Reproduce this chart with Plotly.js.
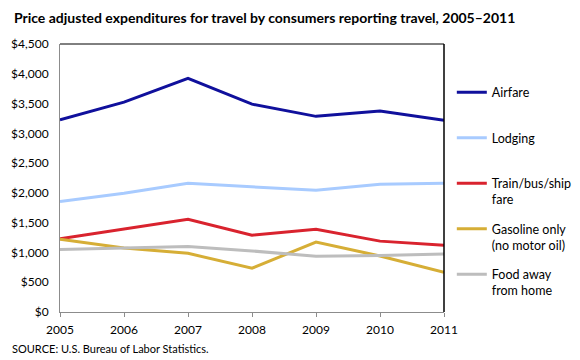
<!DOCTYPE html>
<html>
<head>
<meta charset="utf-8">
<script src="https://cdn.plot.ly/plotly-3.0.1.min.js"></script>
<style>html,body{margin:0;padding:0;background:#fff;}</style>
</head>
<body>
<div id="chart" style="width:580px;height:360px;"></div>
<script>
const years = [2005, 2006, 2007, 2008, 2009, 2010, 2011];
const seriesNames = ["Airfare<br> ", "Lodging<br> ", "Train/bus/ship<br>fare", "Gasoline only<br>(no motor oil)", "Food away<br>from home"];
const airfare = [3225, 3525, 3925, 3490, 3285, 3375, 3220];
const lodging = [1855, 1995, 2160, 2105, 2045, 2145, 2160];
const trainBusShip = [1230, 1390, 1555, 1290, 1390, 1190, 1120];
const gasoline = [1220, 1075, 985, 735, 1175, 940, 665];
const foodAway = [1050, 1070, 1100, 1025, 935, 950, 975];
const yTickVals = [0, 500, 1000, 1500, 2000, 2500, 3000, 3500, 4000, 4500];
const yTickText = ["$0", "$500", "$1,000", "$1,500", "$2,000", "$2,500", "$3,000", "$3,500", "$4,000", "$4,500"];

const seriesValues = [airfare, lodging, trainBusShip, gasoline, foodAway];
const colors = ["#10109c", "#a8cbff", "#d9232e", "#d6ae36", "#bdbdbd"];
const FONT = "Lato, 'Open Sans', sans-serif";

const traces = seriesValues.map((vals, i) => ({
  x: years, y: vals, type: "scatter", mode: "lines",
  name: seriesNames[i], legendgroup: "g" + i,
  line: {color: colors[i], width: 3}
}));

const layout = {
  width: 580, height: 360,
  margin: {l: 60, r: 136, t: 44, b: 48},
  paper_bgcolor: "#fff", plot_bgcolor: "#fff",
  font: {family: FONT, size: 12, color: "#000"},
  title: {text: "<b>Price adjusted expenditures for travel by consumers reporting travel, 2005\u20132011</b>",
          font: {family: FONT, size: 14, color: "#000"}, x: 0.024, xanchor: "left", y: 0.95, yanchor: "middle"},
  xaxis: {range: [2005, 2011], tickvals: years, ticktext: years.map(String), showgrid: false, zeroline: false,
          showline: true, linecolor: "#8c8c8c", linewidth: 1, ticks: "outside", ticklen: 4, tickcolor: "#8c8c8c",
          ticklabelstandoff: 3, tickfont: {family: FONT, size: 12}},
  yaxis: {range: [0, 4500], tickvals: yTickVals, ticktext: yTickText, showgrid: false, zeroline: false,
          showline: true, linecolor: "#8c8c8c", linewidth: 1, ticks: "", ticklabelstandoff: 8,
          tickfont: {family: FONT, size: 12}},
  legend: {xref: "container", yref: "paper", x: 0.779, xanchor: "left", y: 0.875, yanchor: "top",
           maxheight: 340, traceorder: "grouped", tracegroupgap: 10,
           valign: "top", itemwidth: 30, font: {family: FONT, size: 12.5}, bgcolor: "rgba(0,0,0,0)"},
  shapes: [
    {type: "line", xref: "paper", yref: "paper", x0: 0, x1: 1, y0: 1, y1: 1, line: {color: "#000", width: 1}},
    {type: "line", xref: "paper", yref: "paper", x0: 1, x1: 1, y0: 0, y1: 1, line: {color: "#000", width: 1.5}}
  ],
  annotations: [
    {text: "SOURCE: U.S. Bureau of Labor Statistics.", xref: "paper", yref: "paper", x: -0.13, y: -0.105,
     xanchor: "left", yanchor: "top", showarrow: false, font: {family: FONT, size: 11}}
  ]
};
Plotly.newPlot("chart", traces, layout, {displayModeBar: false, staticPlot: true});
</script>
</body>
</html>
